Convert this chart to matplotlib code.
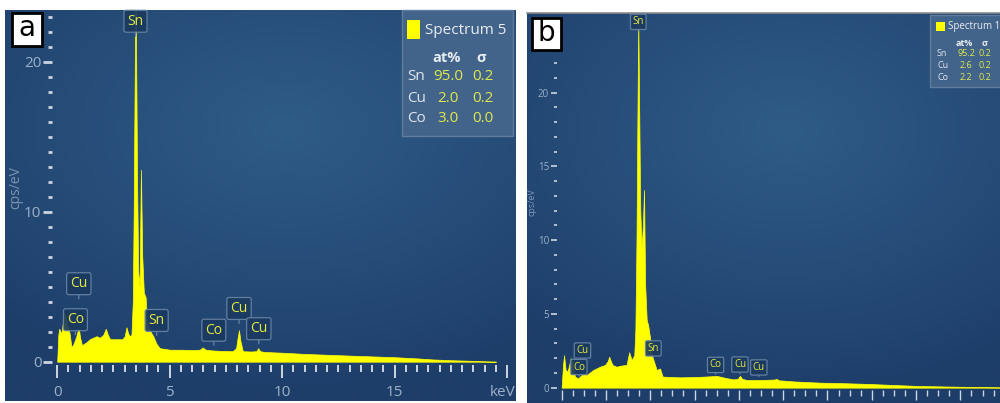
import numpy as np
import matplotlib
matplotlib.use('Agg')
import matplotlib.pyplot as plt
from matplotlib.ticker import FixedLocator, FixedFormatter
from matplotlib.patches import Rectangle
from matplotlib.transforms import ScaledTranslation
from matplotlib import font_manager

_names = {f.name for f in font_manager.fontManager.ttflist}
FONT = 'Liberation Sans Narrow' if 'Liberation Sans Narrow' in _names else 'Open Sans'
plt.rcParams['font.family'] = [FONT, 'DejaVu Sans']

# ---------------- data: panel a (Spectrum 5) ----------------
energy_a = [0.00, 0.05, 0.09, 0.15, 0.19, 0.25, 0.30, 0.36, 0.41, 0.48,
            0.55, 0.63, 0.70, 0.78, 0.85, 0.90, 0.96, 1.02, 1.10, 1.20,
            1.30, 1.45, 1.60, 1.75, 1.90, 2.05, 2.16, 2.25, 2.35, 2.50,
            2.70, 2.90, 3.00, 3.08, 3.15, 3.22, 3.30, 3.36, 3.40, 3.45,
            3.48, 3.51, 3.55, 3.60, 3.66, 3.72, 3.78, 3.85, 3.93, 3.97,
            4.05, 4.15, 4.27, 4.41, 4.56, 4.80, 5.00, 5.50, 6.00, 6.34,
            6.46, 6.60, 6.90, 7.30, 7.80, 7.95, 8.02, 8.08, 8.14, 8.25,
            8.60, 8.85, 8.93, 9.02, 9.20, 10.0, 11.0, 12.2, 13.5, 15.0,
            16.0, 16.7, 17.5, 18.2, 19.1, 19.5]
counts_a = [0.0, 1.8, 2.2, 2.0, 1.9, 2.6, 3.3, 3.1, 2.8, 2.3,
            1.9, 1.0, 1.1, 1.4, 1.7, 2.0, 2.2, 1.6, 1.1, 1.2,
            1.3, 1.5, 1.6, 1.7, 1.6, 1.8, 2.2, 1.8, 1.5, 1.5,
            1.5, 1.5, 1.7, 2.3, 1.9, 1.7, 1.8, 4.0, 10.0, 20.0,
            26.0, 20.0, 12.0, 6.0, 5.0, 12.8, 7.0, 4.6, 4.3, 2.9,
            2.4, 2.0, 1.7, 1.2, 0.9, 0.85, 0.8, 0.8, 0.78, 0.8,
            0.95, 0.8, 0.75, 0.72, 0.7, 0.9, 1.6, 2.1, 1.4, 0.7,
            0.68, 0.7, 0.9, 0.7, 0.65, 0.6, 0.52, 0.45, 0.38, 0.3,
            0.22, 0.15, 0.1, 0.07, 0.02, 0.0]

peak_labels_a = ['Sn', 'Cu', 'Co', 'Sn', 'Co', 'Cu', 'Cu']
peak_energy_a = [3.48, 0.96, 0.81, 4.42, 6.96, 8.08, 8.96]
peak_boxy_a = [22.7, 5.2, 2.8, 2.75, 2.1, 3.55, 2.2]

legend_title_a = 'Spectrum 5'
elements = ['Sn', 'Cu', 'Co']
at_pct_a = ['95.0', '2.0', '3.0']
sigma_a = ['0.2', '0.2', '0.0']

xticks_a = [0, 5, 10, 15, 20]
xticklabels_a = ['0', '5', '10', '15', 'keV']
yticks_a = [0, 10, 20]

# ---------------- data: panel b (Spectrum 1) ----------------
energy_b = [0.00, 0.06, 0.11, 0.18, 0.27, 0.35, 0.41, 0.50, 0.60, 0.75,
            0.90, 0.98, 1.13, 1.43, 1.73, 1.96, 2.08, 2.15, 2.22, 2.30,
            2.48, 2.70, 2.93, 3.05, 3.16, 3.28, 3.33, 3.38, 3.42, 3.46,
            3.50, 3.55, 3.61, 3.67, 3.72, 3.77, 3.84, 3.91, 3.99, 4.06,
            4.14, 4.29, 4.44, 4.56, 5.00, 5.34, 6.00, 6.60, 7.00, 7.40,
            7.75, 7.95, 8.05, 8.15, 8.35, 9.00, 9.60, 9.70, 9.80, 10.5,
            11.66, 12.8, 13.9, 15.0, 16.2, 17.0, 17.7, 18.8, 19.8]
counts_b = [0.0, 1.5, 2.2, 1.2, 1.1, 1.6, 2.0, 1.76, 0.75, 0.63,
            0.86, 0.97, 0.86, 1.2, 1.42, 1.54, 1.8, 2.1, 1.8, 1.54,
            1.42, 1.5, 1.54, 2.4, 1.88, 2.2, 4.0, 10.0, 18.0, 25.0,
            19.0, 12.0, 9.5, 11.0, 13.4, 7.0, 4.6, 4.2, 3.4, 2.3,
            1.9, 1.2, 1.3, 0.75, 0.72, 0.7, 0.72, 0.76, 0.8, 0.66,
            0.56, 0.6, 0.8, 0.6, 0.52, 0.52, 0.55, 0.6, 0.5, 0.42,
            0.34, 0.3, 0.25, 0.18, 0.11, 0.09, 0.07, 0.04, 0.02]

peak_labels_b = ['Sn', 'Cu', 'Co', 'Sn', 'Co', 'Cu', 'Cu']
peak_energy_b = [3.46, 0.94, 0.78, 4.14, 6.95, 8.05, 8.90]
peak_boxy_b = [24.8, 2.52, 1.4, 2.66, 1.54, 1.57, 1.37]

legend_title_b = 'Spectrum 1'
at_pct_b = ['95.2', '2.6', '2.2']
sigma_b = ['0.2', '0.2', '0.2']

xticks_b = [0, 2, 4, 6, 8, 10, 12, 14, 16, 18]
yticks_b = [0, 5, 10, 15, 20]

# ---------------- styling ----------------
W, H = 1000, 403
YELLOW = '#ffff00'
TICKC = '#ccd5e0'
LABC = '#9db0c8'
BOX_FC = '#1b3a60'
BOX_EC = '#6784a4'
BOX_TC = '#e6ea3c'

fig = plt.figure(figsize=(10, 4.03), dpi=100)
fig.patch.set_facecolor('white')


def px_rect(l, t, r, b):
    return [l / W, 1 - b / H, (r - l) / W, (b - t) / H]


def frect(l, t, r, b, **kw):
    fig.add_artist(Rectangle((l / W, 1 - b / H), (r - l) / W, (b - t) / H,
                             transform=fig.transFigure, **kw))


def ftext(x, y, s, **kw):
    fig.text(x / W, 1 - y / H, s, **kw)


def background(ax):
    h, w = 200, 300
    yy, xx = np.mgrid[0:1:h * 1j, 0:1:w * 1j]
    d = np.sqrt(((xx - 0.55) / 1.0) ** 2 + ((yy - 0.3) / 0.85) ** 2)
    t = np.clip(d / 0.8, 0, 1) ** 1.1
    light = np.array([47, 91, 135]) / 255
    dark = np.array([30, 62, 106]) / 255
    img = light * (1 - t[..., None]) + dark * t[..., None]
    ax.imshow(img, extent=[0, 1, 0, 1], transform=ax.transAxes, aspect='auto',
              zorder=0, interpolation='bilinear')


def peak_boxes(ax, labels, energies, boxy, fs, tip, pad):
    for lab, e, y in zip(labels, energies, boxy):
        ax.annotate(lab, xy=(e, y - tip), xytext=(e, y), ha='center', va='center',
                    fontsize=fs, color=BOX_TC, zorder=5, annotation_clip=False,
                    bbox=dict(boxstyle='round,pad=%.2f,rounding_size=0.15' % pad,
                              fc=BOX_FC, ec=BOX_EC, lw=0.9, alpha=0.92),
                    arrowprops=dict(arrowstyle='-', color=BOX_EC, lw=0.9,
                                    shrinkA=0, shrinkB=0))


# ================= panel a =================
ax_a = fig.add_axes(px_rect(5, 10, 516, 401))
background(ax_a)
ax_a.fill_between(energy_a, counts_a, 0, color=YELLOW, lw=0.5, zorder=2)
peak_boxes(ax_a, peak_labels_a, peak_energy_a, peak_boxy_a, 10, 1.0, 0.25)

for s in ax_a.spines.values():
    s.set_visible(False)
ax_a.spines['left'].set_position(('data', -0.24))
ax_a.spines['bottom'].set_position(('data', -0.22))
ax_a.yaxis.set_major_locator(FixedLocator(yticks_a))
ax_a.yaxis.set_minor_locator(FixedLocator([v for v in range(1, 24) if v % 10]))
ax_a.xaxis.set_major_locator(FixedLocator(xticks_a))
ax_a.xaxis.set_major_formatter(FixedFormatter(xticklabels_a))
ax_a.xaxis.set_minor_locator(FixedLocator([i * 0.5 for i in range(1, 40) if i % 10]))
ax_a.tick_params(axis='y', which='major', direction='out', length=6.5, width=2,
                 color=TICKC, labelsize=11, labelcolor=LABC, pad=1)
ax_a.tick_params(axis='y', which='minor', direction='out', length=3, width=2, color=TICKC)
ax_a.tick_params(axis='x', which='major', direction='out', length=9.4, width=1.4,
                 color=TICKC, labelsize=11, labelcolor=LABC, pad=5)
ax_a.tick_params(axis='x', which='minor', direction='out', length=5, width=1.4, color=TICKC)
_kev = ax_a.xaxis.get_major_ticks()[-1].label1
_kev.set_transform(_kev.get_transform() + ScaledTranslation(-0.05, 0, fig.dpi_scale_trans))
ax_a.text(0.021, 0.547, 'cps/eV', transform=ax_a.transAxes, rotation=90,
          ha='center', va='center', fontsize=10, color='#7d95b3')
ax_a.set_xlim(-2.32, 20.39)
ax_a.set_ylim(-2.62, 23.45)

# ================= panel b =================
ax_b = fig.add_axes(px_rect(527.3, 13.3, 1000, 403))
background(ax_b)
ax_b.fill_between(energy_b, counts_b, 0, color=YELLOW, lw=0.5, zorder=2)
peak_boxes(ax_b, peak_labels_b, peak_energy_b, peak_boxy_b, 7, 0.62, 0.22)

for k, s in ax_b.spines.items():
    s.set_visible(k == 'top')
ax_b.spines['top'].set_color('#8c8c8c')
ax_b.spines['top'].set_linewidth(1.2)
ax_b.spines['left'].set_position(('data', -0.23))
ax_b.spines['bottom'].set_position(('data', -0.16))
ax_b.yaxis.set_major_locator(FixedLocator(yticks_b))
ax_b.yaxis.set_minor_locator(FixedLocator([v for v in range(1, 23) if v % 5]))
ax_b.xaxis.set_major_locator(FixedLocator(xticks_b))
ax_b.xaxis.set_minor_locator(FixedLocator([i * 0.5 for i in range(1, 40) if i % 4]))
ax_b.tick_params(axis='y', which='major', direction='out', length=4.3, width=1.2,
                 color=TICKC, labelsize=7, labelcolor=LABC, pad=1)
ax_b.tick_params(axis='y', which='minor', direction='out', length=2.2, width=1.2, color=TICKC)
ax_b.tick_params(axis='x', which='major', direction='out', length=7, width=1.0,
                 color=TICKC, labelsize=7, labelcolor=LABC, pad=3)
ax_b.tick_params(axis='x', which='minor', direction='out', length=4.5, width=1.0, color=TICKC)
ax_b.text(0.0093, 0.516, 'cps/eV', transform=ax_b.transAxes, rotation=90,
          ha='center', va='center', fontsize=6.5, color='#7d95b3')
ax_b.set_xlim(-1.55, 19.79)
ax_b.set_ylim(-1.04, 25.38)

# ================= legends =================
# panel a
frect(402, 10, 513, 136, fc='#43648a', ec='#5f7c9c', lw=1, zorder=4)
frect(407, 20, 420, 39, fc=YELLOW, ec='none', zorder=5)
ftext(425, 30, legend_title_a, fontsize=11, color='#e8edf3', va='center', ha='left', zorder=6)
ftext(447, 58, 'at%', fontsize=10.5, color='#e8edf3', va='center', ha='center',
      fontweight='bold', zorder=6)
ftext(481, 58, 'σ', fontsize=10.5, color='#e8edf3', va='center', ha='center',
      fontweight='bold', zorder=6)
for i, (el, v, s) in enumerate(zip(elements, at_pct_a, sigma_a)):
    y = 77 + 21 * i
    ftext(407, y, el, fontsize=11, color='#e0e6ee', va='center', ha='left', zorder=6)
    ftext(448, y, v, fontsize=11, color='#dfe84a', va='center', ha='center', zorder=6)
    ftext(483, y, s, fontsize=11, color='#dfe84a', va='center', ha='center', zorder=6)

# panel b
frect(930, 15, 1002, 87, fc='#43648a', ec='#5f7c9c', lw=1, zorder=4)
frect(936, 22, 945, 31, fc=YELLOW, ec='none', zorder=5)
ftext(948, 27, legend_title_b, fontsize=7, color='#e8edf3', va='center', ha='left', zorder=6)
ftext(964, 43, 'at%', fontsize=6.5, color='#e8edf3', va='center', ha='center',
      fontweight='bold', zorder=6)
ftext(985, 43, 'σ', fontsize=6.5, color='#e8edf3', va='center', ha='center',
      fontweight='bold', zorder=6)
for i, (el, v, s) in enumerate(zip(elements, at_pct_b, sigma_b)):
    y = 54 + 12 * i
    ftext(937, y, el, fontsize=6.5, color='#e0e6ee', va='center', ha='left', zorder=6)
    ftext(966, y, v, fontsize=6.5, color='#dfe84a', va='center', ha='center', zorder=6)
    ftext(985, y, s, fontsize=6.5, color='#dfe84a', va='center', ha='center', zorder=6)

# ================= panel letters =================
frect(12, 13, 42, 46, fc='white', ec='black', lw=2, zorder=7)
ftext(27, 28, 'a', fontsize=20, color='black', va='center', ha='center',
      family='DejaVu Sans', zorder=8)
frect(532, 18, 561, 50, fc='white', ec='black', lw=2, zorder=7)
ftext(546.5, 33, 'b', fontsize=20, color='black', va='center', ha='center',
      family='DejaVu Sans', zorder=8)

fig.savefig('out.png', dpi=100, facecolor='white')
